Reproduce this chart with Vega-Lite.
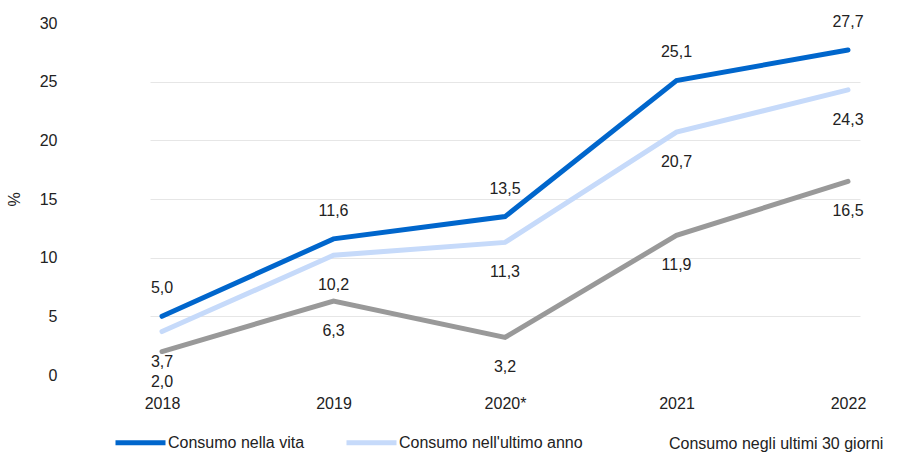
{
  "$schema": "https://vega.github.io/schema/vega-lite/v6.json",
  "width": 710,
  "height": 352,
  "autosize": "none",
  "padding": {"left": 150, "top": 23, "right": 41, "bottom": 80},
  "background": "white",
  "config": {
    "view": {"stroke": null},
    "font": "Liberation Sans",
    "locale": {"number": {"decimal": ",", "thousands": ".", "grouping": [3], "currency": ["€", ""]}}
  },
  "data": {
    "values": [
      {"anno": "2018", "serie": "Consumo nella vita", "valore": 5.0},
      {"anno": "2019", "serie": "Consumo nella vita", "valore": 11.6},
      {"anno": "2020*", "serie": "Consumo nella vita", "valore": 13.5},
      {"anno": "2021", "serie": "Consumo nella vita", "valore": 25.1},
      {"anno": "2022", "serie": "Consumo nella vita", "valore": 27.7},
      {"anno": "2018", "serie": "Consumo nell'ultimo anno", "valore": 3.7},
      {"anno": "2019", "serie": "Consumo nell'ultimo anno", "valore": 10.2},
      {"anno": "2020*", "serie": "Consumo nell'ultimo anno", "valore": 11.3},
      {"anno": "2021", "serie": "Consumo nell'ultimo anno", "valore": 20.7},
      {"anno": "2022", "serie": "Consumo nell'ultimo anno", "valore": 24.3},
      {"anno": "2018", "serie": "Consumo negli ultimi 30 giorni", "valore": 2.0},
      {"anno": "2019", "serie": "Consumo negli ultimi 30 giorni", "valore": 6.3},
      {"anno": "2020*", "serie": "Consumo negli ultimi 30 giorni", "valore": 3.2},
      {"anno": "2021", "serie": "Consumo negli ultimi 30 giorni", "valore": 11.9},
      {"anno": "2022", "serie": "Consumo negli ultimi 30 giorni", "valore": 16.5}
    ]
  },
  "encoding": {
    "x": {
      "field": "anno", "type": "ordinal",
      "scale": {"type": "point", "padding": 0.07},
      "axis": {"title": null, "labelAngle": 0, "domain": false, "ticks": false, "labelPadding": 20, "labelFontSize": 16, "labelColor": "#222222"}
    },
    "y": {
      "field": "valore", "type": "quantitative",
      "scale": {"domain": [0, 30], "nice": false},
      "axis": {
        "title": "%", "titleFontSize": 16, "titleFontWeight": "normal", "titleColor": "#222222",
        "titleX": -128, "titleY": 176, "titleAnchor": null,
        "values": [0, 5, 10, 15, 20, 25, 30], "domain": false, "ticks": false,
        "labelPadding": 93, "labelFontSize": 16, "labelColor": "#222222",
        "gridColor": "#E6E6E6",
        "gridOpacity": {"condition": {"test": "datum.value === 0 || datum.value === 30", "value": 0}, "value": 1}
      }
    }
  },
  "layer": [
    {
      "mark": {"type": "line", "strokeWidth": 5, "strokeCap": "round"},
      "encoding": {
        "color": {
          "field": "serie", "type": "nominal",
          "scale": {"domain": ["Consumo nella vita", "Consumo nell'ultimo anno", "Consumo negli ultimi 30 giorni"], "range": ["#0066CC", "#C6DAFA", "#999999"]},
          "legend": {
            "title": null, "orient": "none", "direction": "horizontal",
            "legendX": -37, "legendY": 392,
            "symbolType": "stroke", "symbolSize": 2500, "symbolStrokeWidth": 5,
            "labelFontSize": 16, "labelColor": "#222222", "labelOffset": 0,
            "columnPadding": 31, "labelLimit": 400,
            "encode": {"symbols": {"update": {"opacity": {"signal": "datum.value === 'Consumo negli ultimi 30 giorni' ? 0 : 1"}}}}
          }
        },
        "detail": {"field": "serie"}
      }
    },
    {
      "transform": [{"filter": "datum.serie === 'Consumo nella vita'"}],
      "mark": {"type": "text", "dy": -28, "fontSize": 16, "color": "#222222", "baseline": "middle"},
      "encoding": {"text": {"field": "valore", "type": "quantitative", "format": ".1f"}}
    },
    {
      "transform": [{"filter": "datum.serie !== 'Consumo nella vita'"}],
      "mark": {"type": "text", "dy": 30, "fontSize": 16, "color": "#222222", "baseline": "middle"},
      "encoding": {"text": {"field": "valore", "type": "quantitative", "format": ".1f"}}
    }
  ]
}
